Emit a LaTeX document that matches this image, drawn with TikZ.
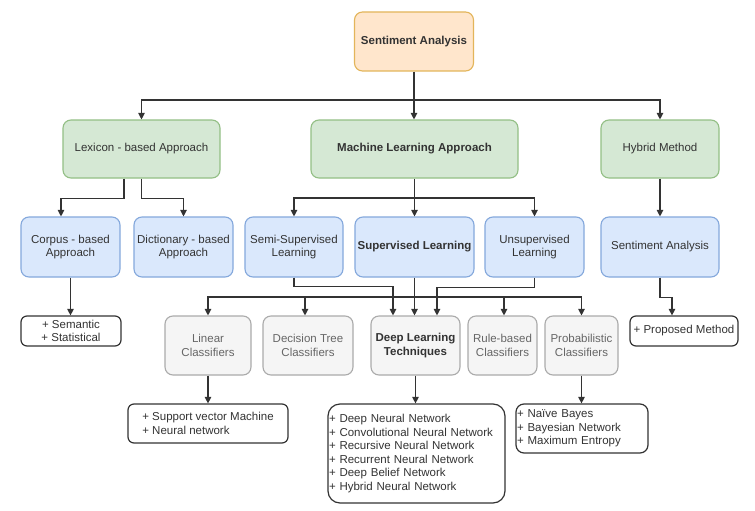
\documentclass[tikz,border=0pt]{standalone}
\usepackage{fontspec}
\setmainfont{Liberation Sans}
\usetikzlibrary{arrows.meta}
\definecolor{txt}{HTML}{333333}
\definecolor{gtxt}{HTML}{666666}
\definecolor{orfill}{HTML}{FFE6CC}
\definecolor{ordraw}{HTML}{E3B55A}
\definecolor{grfill}{HTML}{D5E8D4}
\definecolor{grdraw}{HTML}{93BF85}
\definecolor{blfill}{HTML}{DAE8FC}
\definecolor{bldraw}{HTML}{84A8DC}
\definecolor{gyfill}{HTML}{F5F5F5}
\definecolor{gydraw}{HTML}{ABABAB}
\definecolor{ln}{HTML}{333333}
\tikzset{
  box/.style={rounded corners=8pt, line width=1.1pt, inner sep=1pt, align=center, text=txt,
    font=\fontsize{11.5}{13.6}\selectfont},
  rootbox/.style={box, fill=orfill, draw=ordraw, font=\fontsize{11.5}{13.6}\selectfont\bfseries},
  greenbox/.style={box, fill=grfill, draw=grdraw},
  bluebox/.style={box, fill=blfill, draw=bldraw},
  graybox/.style={box, fill=gyfill, draw=gydraw, text=gtxt},
  listbox/.style={box, fill=white, draw=ln, line width=1.2pt, rounded corners=6pt, align=left},
  arr/.style={draw=ln, line width=1.1pt, -{Triangle[length=6.5pt,width=6.5pt]}},
  plain/.style={draw=ln, line width=1.1pt}
}
\begin{document}
\begin{tikzpicture}[x=1pt,y=-1pt]
\useasboundingbox[fill=white] (0,0) rectangle (755,511);
% level 0
\node[rootbox, minimum width=119pt, minimum height=59pt] (root) at (414,41.5) {Sentiment Analysis};
% level 1
\node[greenbox, minimum width=157pt, minimum height=58pt] (lex) at (141.5,149) {Lexicon - based Approach};
\node[greenbox, minimum width=207pt, minimum height=58pt, font=\fontsize{11.5}{13.6}\selectfont\bfseries] (ml) at (414.5,149) {Machine Learning Approach};
\node[greenbox, minimum width=118pt, minimum height=58pt] (hyb) at (660,149) {Hybrid Method};
% level 2
\node[bluebox, minimum width=99pt, minimum height=60pt] (corpus) at (70.5,247) {Corpus - based\\Approach};
\node[bluebox, minimum width=99pt, minimum height=60pt] (dict) at (183.5,247) {Dictionary - based\\Approach};
\node[bluebox, minimum width=98pt, minimum height=60pt] (semi) at (294,247) {Semi-Supervised\\Learning};
\node[bluebox, minimum width=119pt, minimum height=60pt, font=\fontsize{11.5}{13.6}\selectfont\bfseries] (sup) at (414.5,247) {Supervised Learning};
\node[bluebox, minimum width=99pt, minimum height=60pt] (unsup) at (534.5,247) {Unsupervised\\Learning};
\node[bluebox, minimum width=118pt, minimum height=60pt] (sa2) at (660,247) {Sentiment Analysis};
% level 3
\node[listbox, align=center, minimum width=100pt, minimum height=30pt] (semstat) at (71,331) {+ Semantic\\+ Statistical};
\node[graybox, minimum width=86pt, minimum height=59pt] (lin) at (208,345.5) {Linear\\Classifiers};
\node[graybox, minimum width=90pt, minimum height=59pt] (dt) at (308,345.5) {Decision Tree\\Classifiers};
\node[graybox, minimum width=89pt, minimum height=59pt, text=txt, font=\fontsize{11.5}{13.6}\selectfont\bfseries] (dl) at (415.5,345.5) {Deep Learning\\Techniques};
\node[graybox, minimum width=69pt, minimum height=59pt] (rule) at (502.5,345.5) {Rule-based\\Classifiers};
\node[graybox, minimum width=73pt, minimum height=59pt] (prob) at (581.5,345.5) {Probabilistic\\Classifiers};
\node[listbox, minimum width=108pt, minimum height=30pt] (prop) at (684,331) {+ Proposed Method};
% level 4
\node[listbox, minimum width=160pt, minimum height=39pt] (svm) at (208,423.5) {+ Support vector Machine\\+ Neural network};
\node[listbox, rounded corners=12pt, text width=175pt, inner xsep=1pt, minimum height=99pt] (dln) at (416.5,453.5) {+ Deep Neural Network\\+ Convolutional Neural Network\\+ Recursive Neural Network\\+ Recurrent Neural Network\\+ Deep Belief Network\\+ Hybrid Neural Network};
\node[listbox, rounded corners=8pt, text width=130pt, inner xsep=1pt, minimum height=49pt] (pb) at (582,428.5) {+ Naïve Bayes\\+ Bayesian Network\\+ Maximum Entropy};
% connectors level 0 -> 1
\coordinate (j1) at (414,100);
\draw[plain] (root.south) -- (j1);
\draw[arr] (j1) -| (lex.north);
\draw[arr] (j1) -- (j1 |- ml.north);
\draw[arr] (j1) -| (hyb.north);
% lexicon -> level 2
\draw[arr] ([xshift=-17.5pt]lex.south) -- ++(0,20) -| ([xshift=-9.5pt]corpus.north);
\draw[arr] (lex.south) -- ++(0,20) -| (dict.north);
% ML -> level 2
\coordinate (j2) at (414.5,198);
\draw[plain] (ml.south) -- (j2);
\draw[arr] (j2) -| (semi.north);
\draw[arr] (j2) -- (sup.north);
\draw[arr] (j2) -| (unsup.north);
% hybrid
\draw[arr] (hyb.south) -- (sa2.north);
% corpus
\draw[arr] (corpus.south) -- (corpus.south |- semstat.north);
% semi / sup / unsup -> deep learning
\draw[arr] (semi.south) -- ++(0,9) -| ([xshift=-22.5pt]dl.north);
\draw[arr] (sup.south) -- (sup.south |- dl.north);
\draw[arr] (unsup.south) -- ++(0,10) -| ([xshift=21.5pt]dl.north);
% supervised -> classifiers
\coordinate (j3) at (414.5,297);
\draw[arr] (j3) -| (lin.north);
\draw[arr] (j3) -| ([xshift=-3pt]dt.north);
\draw[arr] (j3) -| ([xshift=1.5pt]rule.north);
\draw[arr] (j3) -| (prob.north);
% hybrid sentiment analysis -> proposed
\draw[arr] (sa2.south) -- ++(0,20) -| ([xshift=-12pt]prop.north);
% level 3 -> 4
\draw[arr] (lin.south) -- (svm.north);
\draw[arr] (dl.south) -- (dl.south |- dln.north);
\draw[arr] (prob.south) -- (prob.south |- pb.north);
\end{tikzpicture}
\end{document}
